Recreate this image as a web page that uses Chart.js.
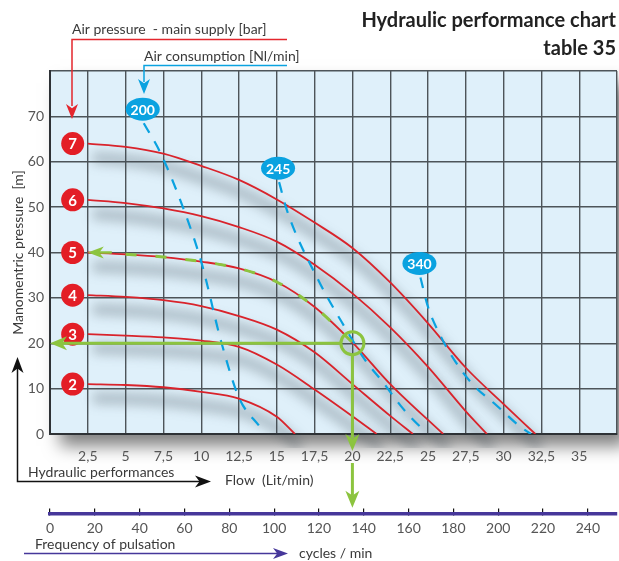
<!DOCTYPE html>
<html>
<head>
<meta charset="utf-8">
<title>Hydraulic performance chart - table 35</title>
<script src="https://cdn.jsdelivr.net/npm/chart.js@4.4.1/dist/chart.umd.min.js"></script>
<style>
    html, body { margin: 0; padding: 0; background: #fff; }
    canvas { display: block; }
</style>
</head>
<body>
<canvas id="myChart" width="619" height="561"></canvas>
<script>
// axis ticks
var flowTicks = [0, 2.5, 5, 7.5, 10, 12.5, 15, 17.5, 20, 22.5, 25, 27.5, 30, 32.5, 35, 37.5];
var headTicks = [0, 10, 20, 30, 40, 50, 60, 70, 80];
var freqTicks = [0, 20, 40, 60, 80, 100, 120, 140, 160, 180, 200, 220, 240];

// air pressure - main supply [bar]
var pressures = [2, 3, 4, 5, 6, 7];
// flow [Lit/min], head [m] for every pressure
var bar2 = [[2.5, 11], [5, 10.8], [7.5, 10.3], [10, 9.3], [12.5, 7.8], [15, 3.8], [16.2, 0]];
var bar3 = [[2.5, 22], [5, 21.7], [7.5, 21.3], [10, 20.6], [12.5, 19.2], [15, 15.3], [17.5, 9.8], [20, 3.9], [21.6, 0]];
var bar4 = [[2.5, 30.6], [5, 30.2], [7.5, 29.5], [10, 28.2], [12.5, 26], [15, 23], [17.5, 18], [20, 11], [22.5, 4], [24, 0]];
var bar5 = [[2.5, 40], [5, 39.6], [7.5, 39], [10, 38], [12.5, 36.5], [15, 33.5], [17.5, 28], [20, 20.2], [22.5, 11], [26, 0]];
var bar6 = [[2.5, 51.6], [5, 50.9], [7.5, 49.7], [10, 48], [12.5, 45.6], [15, 42.4], [17.5, 37.3], [20, 31], [22.5, 23.5], [25, 14.8], [27.5, 5], [28.9, 0]];
var bar7 = [[2.5, 64], [5, 63.3], [7.5, 61.8], [10, 59.1], [12.5, 56], [15, 51.7], [17.5, 46.6], [20, 41], [22.5, 33.4], [25, 24.4], [27.5, 14.6], [30, 6.6], [32.1, 0]];
var curves = [bar2, bar3, bar4, bar5, bar6, bar7];

// air consumption [Nl/min]
var airFlows = [200, 245, 340];
var air200 = [[6.2, 68.5], [7.3, 62], [8.9, 49], [10, 38], [11.35, 20], [12.5, 8], [13.9, 1.5]];
var air245 = [[15.15, 55.5], [15.7, 49], [17.75, 33.9], [19.5, 23.5], [20.8, 16.5], [22, 11.5], [23.2, 6.2], [24, 3.2], [24.9, 0.3]];
var air340 = [[24.5, 34.5], [25, 28], [25.8, 21.8], [26.8, 16], [28, 10.8], [29.5, 6.4], [31.1, 1.6], [31.8, 0]];
var airLines = [air200, air245, air340];

// example working point: 5 bar, 20 Lit/min, 20 m
var workBar = 5;
var workFlow = 20;
var workHead = 20;

var RED = "#d9232b";
var BLUE = "#0aa2e0";
var GREEN = "#8cc43f";
var PURPLE = "#46379a";
var TEXT = "#3a3a3a";

function toPoints(arr) {
    return arr.map(function (p) {
        return {x: p[0], y: p[1]};
    });
}

var datasets = [];
curves.forEach(function (c) {
    datasets.push({
        data: toPoints(c), isShadow: true, borderColor: "rgba(60,70,80,0.32)",
        borderWidth: 11, pointRadius: 0, cubicInterpolationMode: "monotone", order: 20
    });
});
curves.forEach(function (c, i) {
    datasets.push({
        label: pressures[i] + " bar", data: toPoints(c), borderColor: RED,
        borderWidth: 1.8, pointRadius: 0, cubicInterpolationMode: "monotone", order: 10
    });
});
airLines.forEach(function (a, i) {
    datasets.push({
        label: airFlows[i] + " Nl/min", data: toPoints(a), borderColor: BLUE,
        borderWidth: 2.2, borderDash: [11, 10], pointRadius: 0, cubicInterpolationMode: "monotone", order: 8
    });
});
// green read-off along the 5 bar curve
var workCurve = curves[pressures.indexOf(workBar)];
datasets.push({
    data: toPoints(workCurve.filter(function (p) { return p[0] >= 5 && p[0] <= workFlow; })),
    borderColor: GREEN, borderWidth: 3, borderDash: [11, 19], pointRadius: 0,
    cubicInterpolationMode: "monotone", order: 6
});
// numbered badges at start of curves
datasets.push({
    isBadge: true,
    data: curves.map(function (c) { return {x: 1.5, y: c[0][1]}; }),
    showLine: false, pointRadius: 11.5, pointHoverRadius: 11.5,
    backgroundColor: "#e31e26", borderWidth: 0, order: 4
});
// working point circle
datasets.push({
    data: [{x: workFlow, y: workHead}], showLine: false, pointRadius: 11.5,
    backgroundColor: "rgba(0,0,0,0)", borderColor: GREEN, borderWidth: 3, order: 2
});

function arrowHead(ctx, x, y, angle, len, half, color) {
    ctx.save();
    ctx.translate(x, y);
    ctx.rotate(angle);
    ctx.fillStyle = color;
    ctx.beginPath();
    ctx.moveTo(0, 0);
    ctx.lineTo(-len, -half);
    ctx.lineTo(-len * 0.72, 0);
    ctx.lineTo(-len, half);
    ctx.closePath();
    ctx.fill();
    ctx.restore();
}

function line(ctx, pts, color, w) {
    ctx.save();
    ctx.strokeStyle = color;
    ctx.lineWidth = w;
    ctx.beginPath();
    ctx.moveTo(pts[0][0], pts[0][1]);
    for (var i = 1; i < pts.length; i++) {
        ctx.lineTo(pts[i][0], pts[i][1]);
    }
    ctx.stroke();
    ctx.restore();
}

var decoPlugin = {
    id: "deco",
    beforeDraw: function (chart) {
        var ctx = chart.ctx, a = chart.chartArea;
        ctx.save();
        ctx.shadowColor = "rgba(0,0,0,0.5)";
        ctx.shadowBlur = 16;
        ctx.shadowOffsetX = 10;
        ctx.shadowOffsetY = 12;
        ctx.fillStyle = "#dff0fa";
        ctx.fillRect(a.left, a.top, a.right - a.left, a.bottom - a.top);
        ctx.restore();
    },
    beforeDatasetDraw: function (chart, args) {
        if (chart.data.datasets[args.index].isShadow) {
            chart.ctx.save();
            chart.ctx.filter = "blur(6px)";
            chart.ctx.translate(5, 14);
        }
    },
    afterDatasetDraw: function (chart, args) {
        if (chart.data.datasets[args.index].isShadow) {
            chart.ctx.restore();
        }
    },
    afterDatasetsDraw: function (chart) {
        var ctx = chart.ctx;
        var xs = chart.scales.x, ys = chart.scales.y;
        ctx.save();
        ctx.textAlign = "center";
        ctx.textBaseline = "middle";

        // badge numbers
        chart.data.datasets.forEach(function (ds, i) {
            if (!ds.isBadge) return;
            chart.getDatasetMeta(i).data.forEach(function (pt, j) {
                ctx.fillStyle = "#fff";
                ctx.font = "bold 15px Lato";
                ctx.fillText(String(pressures[j]), pt.x, pt.y + 1);
            });
        });

        // air consumption ellipses
        airLines.forEach(function (a, i) {
            var px = xs.getPixelForValue(a[0][0]) - 1;
            var py = ys.getPixelForValue(a[0][1]) - 14;
            ctx.fillStyle = BLUE;
            ctx.beginPath();
            ctx.ellipse(px, py, 17, 11.5, 0, 0, Math.PI * 2);
            ctx.fill();
            ctx.fillStyle = "#fff";
            ctx.font = "bold 14px Lato";
            ctx.fillText(String(airFlows[i]), px, py + 1);
        });

        // green read-off lines
        var cx = xs.getPixelForValue(workFlow), cy = ys.getPixelForValue(workHead);
        var x0 = xs.getPixelForValue(0), y0 = ys.getPixelForValue(0);
        var fy = ys.getPixelForValue(chart.options.scales.freq.position.y);
        line(ctx, [[cx - 12, cy], [x0 + 12, cy]], GREEN, 3);
        arrowHead(ctx, x0, cy, Math.PI, 17, 7, GREEN);
        line(ctx, [[cx, cy + 12], [cx, y0 + 4]], GREEN, 3);
        arrowHead(ctx, cx, y0 + 17, Math.PI / 2, 17, 7, GREEN);
        line(ctx, [[cx, y0 + 29], [cx, fy - 18]], GREEN, 3);
        arrowHead(ctx, cx, fy - 6, Math.PI / 2, 17, 7, GREEN);
        // arrow at start of the working curve
        var sx = xs.getPixelForValue(workCurve[0][0]), sy = ys.getPixelForValue(workCurve[0][1]);
        line(ctx, [[sx + 8, sy], [sx + 24, sy]], GREEN, 2.5);
        arrowHead(ctx, sx, sy, Math.PI, 16, 6, GREEN);
        ctx.restore();
    },
    afterDraw: function (chart) {
        var ctx = chart.ctx;
        ctx.save();
        ctx.textBaseline = "alphabetic";

        ctx.fillStyle = "#222";
        ctx.font = "bold 20px Lato";
        ctx.textAlign = "right";
        ctx.fillText("Hydraulic performance chart", 616, 27);
        ctx.fillText("table 35", 616, 55);

        ctx.textAlign = "left";
        ctx.font = "14px Lato";
        ctx.fillStyle = TEXT;
        ctx.fillText("Air pressure  - main supply [bar]", 72, 34);
        line(ctx, [[287, 39.5], [72, 39.5], [72, 106]], "#e4262d", 1.5);
        arrowHead(ctx, 72, 119, Math.PI / 2, 15, 6, "#e4262d");

        ctx.fillStyle = TEXT;
        ctx.fillText("Air consumption [Nl/min]", 144, 61);
        line(ctx, [[287, 65.5], [144, 65.5], [144, 82]], BLUE, 1.5);
        arrowHead(ctx, 144, 94, Math.PI / 2, 15, 6, BLUE);

        ctx.fillStyle = TEXT;
        ctx.fillText("Hydraulic performances", 28, 477);
        ctx.fillText("Flow  (Lit/min)", 225, 485);
        line(ctx, [[17.5, 368], [17.5, 481.5], [200, 481.5]], "#111", 1.5);
        arrowHead(ctx, 17.5, 357, -Math.PI / 2, 16, 6, "#111");
        arrowHead(ctx, 211, 481.5, 0, 16, 6, "#111");

        ctx.fillStyle = TEXT;
        ctx.fillText("Frequency of pulsation", 35, 549);
        ctx.fillText("cycles / min", 299, 558);
        line(ctx, [[24, 553.5], [278, 553.5]], PURPLE, 1.5);
        arrowHead(ctx, 288, 553.5, 0, 15, 5.5, PURPLE);
        ctx.restore();
    }
};

Chart.defaults.font.family = "Lato";
Chart.defaults.font.size = 14;
Chart.defaults.color = TEXT;

var gridColor = "#4d5459";
new Chart(document.getElementById("myChart"), {
    type: "line",
    data: {datasets: datasets},
    plugins: [decoPlugin],
    options: {
        responsive: false,
        animation: false,
        events: [],
        // big badge points must not shrink the plot area
        layout: {autoPadding: false, padding: {left: 8, right: 2, top: 71, bottom: 97}},
        plugins: {legend: {display: false}, tooltip: {enabled: false}},
        scales: {
            x: {
                type: "linear", position: "bottom", min: 0, max: 37.5,
                afterBuildTicks: function (s) { s.ticks = flowTicks.map(function (v) { return {value: v}; }); },
                afterFit: function (s) { s.height = 30; },
                grid: {color: gridColor, lineWidth: 1.4, drawTicks: true, tickLength: 14, tickColor: "rgba(0,0,0,0)"},
                border: {color: "#2e3236", width: 2},
                ticks: {
                    padding: 0, autoSkip: false, maxRotation: 0, color: "#555",
                    callback: function (v) {
                        if (v === 0 || v === 37.5) return "";
                        return String(v).replace(".", ",");
                    }
                }
            },
            y: {
                type: "linear", min: 0, max: 80,
                afterBuildTicks: function (s) { s.ticks = headTicks.map(function (v) { return {value: v}; }); },
                afterFit: function (s) { s.width = 42; },
                grid: {color: gridColor, lineWidth: 1.4, drawTicks: false},
                border: {color: "#2e3236", width: 2},
                title: {display: true, text: "Manomentric pressure  [m]", color: TEXT, padding: {top: 2, bottom: 0}},
                ticks: {
                    padding: 6, color: "#555",
                    callback: function (v) { return v === 80 ? "" : String(v); }
                }
            },
            freq: {
                type: "linear", axis: "x", position: {y: -17.6}, min: 0, max: 253,
                afterBuildTicks: function (s) { s.ticks = freqTicks.map(function (v) { return {value: v}; }); },
                grid: {drawOnChartArea: false, color: "#111", lineWidth: 1.2, tickLength: -7},
                border: {color: PURPLE, width: 3.5},
                ticks: {padding: 13, autoSkip: false, maxRotation: 0, color: "#555"}
            }
        }
    }
});
</script>
</body>
</html>
